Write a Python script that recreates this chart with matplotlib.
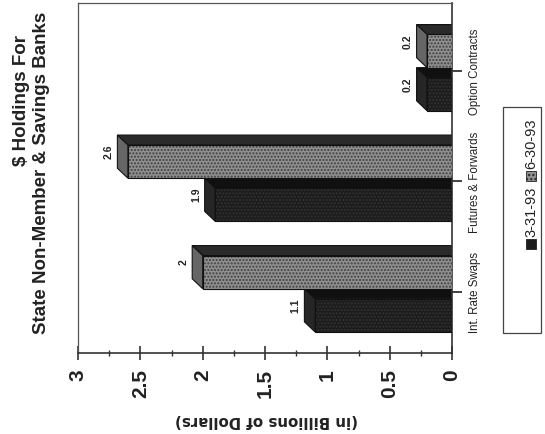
import matplotlib
matplotlib.use('Agg')
import matplotlib.pyplot as plt
from matplotlib.patches import Polygon, Rectangle
from matplotlib.ticker import MultipleLocator

categories = ['Int. Rate Swaps', 'Futures & Forwards', 'Option Contracts']
series_names = ['3-31-93', '6-30-93']
values_mar = [1.1, 1.9, 0.2]
values_jun = [2.0, 2.6, 0.2]
value_ticks = [0, 0.5, 1, 1.5, 2, 2.5, 3]
value_tick_labels = ['0', '0.5', '1', '1.5', '2', '2.5', '3']
title_line1 = '$ Holdings For'
title_line2 = 'State Non-Member & Savings Banks'
value_label = '(in Billions of Dollars)'

plt.rcParams['font.family'] = ['Liberation Sans', 'DejaVu Sans']

W, H = 545, 435
fig = plt.figure(figsize=(W / 100, H / 100), dpi=100)
fig.patch.set_facecolor('white')
ax = fig.add_axes([78 / W, 1 - 354 / H, (452 - 78) / W, (354 - 4) / H])
ax.set_facecolor('white')
ax.set_xlim(3.0, 0.0)
ax.set_ylim(-0.552, 2.615)

th = 0.30     # front face thickness
dx = 0.084    # depth in value direction
dy = 0.09     # depth in category direction
styles = [
    dict(off=-0.21, front='#1c1c1c', hatch_ec='#333333', strip='#101010', bevel='#262626'),
    dict(off=0.18, front='#8f8f8f', hatch_ec='#404040', strip='#2a2a2a', bevel='#666666'),
]

for vals, st in zip([values_mar, values_jun], styles):
    for i, v in enumerate(vals):
        c = i + st['off']
        bot, top = c - th / 2, c + th / 2
        strip = Polygon([(0, top), (v, top), (v + dx, top + dy), (0, top + dy)],
                        closed=True, fc=st['strip'], ec='#111111', lw=0.8, zorder=2)
        bevel = Polygon([(v, bot), (v, top), (v + dx, top + dy), (v + dx, bot + dy)],
                        closed=True, fc=st['bevel'], ec='#111111', lw=0.8, zorder=2)
        ax.add_patch(strip)
        ax.add_patch(bevel)
        ax.barh(c, v, height=th, left=0, color=st['front'], edgecolor=st['hatch_ec'],
                hatch='.....', lw=0.6, zorder=3)
        ax.add_patch(Rectangle((0, bot), v, th, fill=False, ec='#111111', lw=0.8, zorder=4))
        ax.text(v + dx + 0.03, c + dy / 2 + 0.05, f'{v:g}', rotation=90,
                ha='right', va='center', fontsize=7.5, fontweight='bold', color='#222222')

# value axis (bottom)
ax.set_xticks(value_ticks)
ax.set_xticklabels(value_tick_labels, rotation=90, fontsize=15, fontweight='bold',
                   ha='center', va='top', color='#222222')
ax.xaxis.set_minor_locator(MultipleLocator(0.25))
ax.tick_params(axis='x', which='major', direction='inout', length=9.5, width=1.2,
               pad=6, color='#333333')
ax.tick_params(axis='x', which='minor', direction='inout', length=4.5, width=1.0,
               color='#333333')

# category axis (right)
ax.yaxis.tick_right()
ax.set_yticks(range(len(categories)))
ax.set_yticklabels(categories, rotation=90, fontsize=8.3, va='center', ha='left',
                   color='#222222')
ax.tick_params(axis='y', direction='out', length=7, width=1.2, pad=5, color='#222222',
               right=True, left=False)
ax.yaxis.set_minor_locator(plt.NullLocator())

for s in ax.spines.values():
    s.set_color('#555555')
    s.set_linewidth(0.9)
ax.spines['bottom'].set_linewidth(1.2)
ax.spines['bottom'].set_color('#333333')
ax.spines['right'].set_linewidth(1.2)
ax.spines['right'].set_color('#333333')

# value axis label (upside down, as in the rotated original)
fig.text(266 / W, 1 - 421 / H, value_label, rotation=180, ha='center', va='center',
         fontsize=10.8, fontweight='bold', family=['DejaVu Sans'], color='#222222')

# title
fig.text(22 / W, 1 - 101 / H, title_line1, rotation=90, ha='center', va='center',
         fontsize=13.5, fontweight='bold', color='#222222')
fig.text(42 / W, 1 - 173 / H, title_line2, rotation=90, ha='center', va='center',
         fontsize=13.5, fontweight='bold', color='#222222')

# legend (rotated)
fig.patches.append(Rectangle((503 / W, 1 - 334 / H), 38 / W, 226 / H,
                             transform=fig.transFigure, fill=False, ec='#444444', lw=0.9))
leg_y = [212, 144]
mk_y = [245, 177]
mk_fc = ['#1c1c1c', '#8f8f8f']
mk_hatch = [None, '....']
for name, ty, my, fc, hh in zip(series_names, leg_y, mk_y, mk_fc, mk_hatch):
    fig.patches.append(Rectangle((526 / W, 1 - (my + 5) / H), 10 / W, 10 / H,
                                 transform=fig.transFigure, fc=fc, ec='#222222',
                                 hatch=hh, lw=0.6))
    fig.text(531 / W, 1 - ty / H, name, rotation=90, ha='center', va='center',
             fontsize=10.5, color='#222222')

fig.savefig('out.png', dpi=100, facecolor=fig.get_facecolor())
